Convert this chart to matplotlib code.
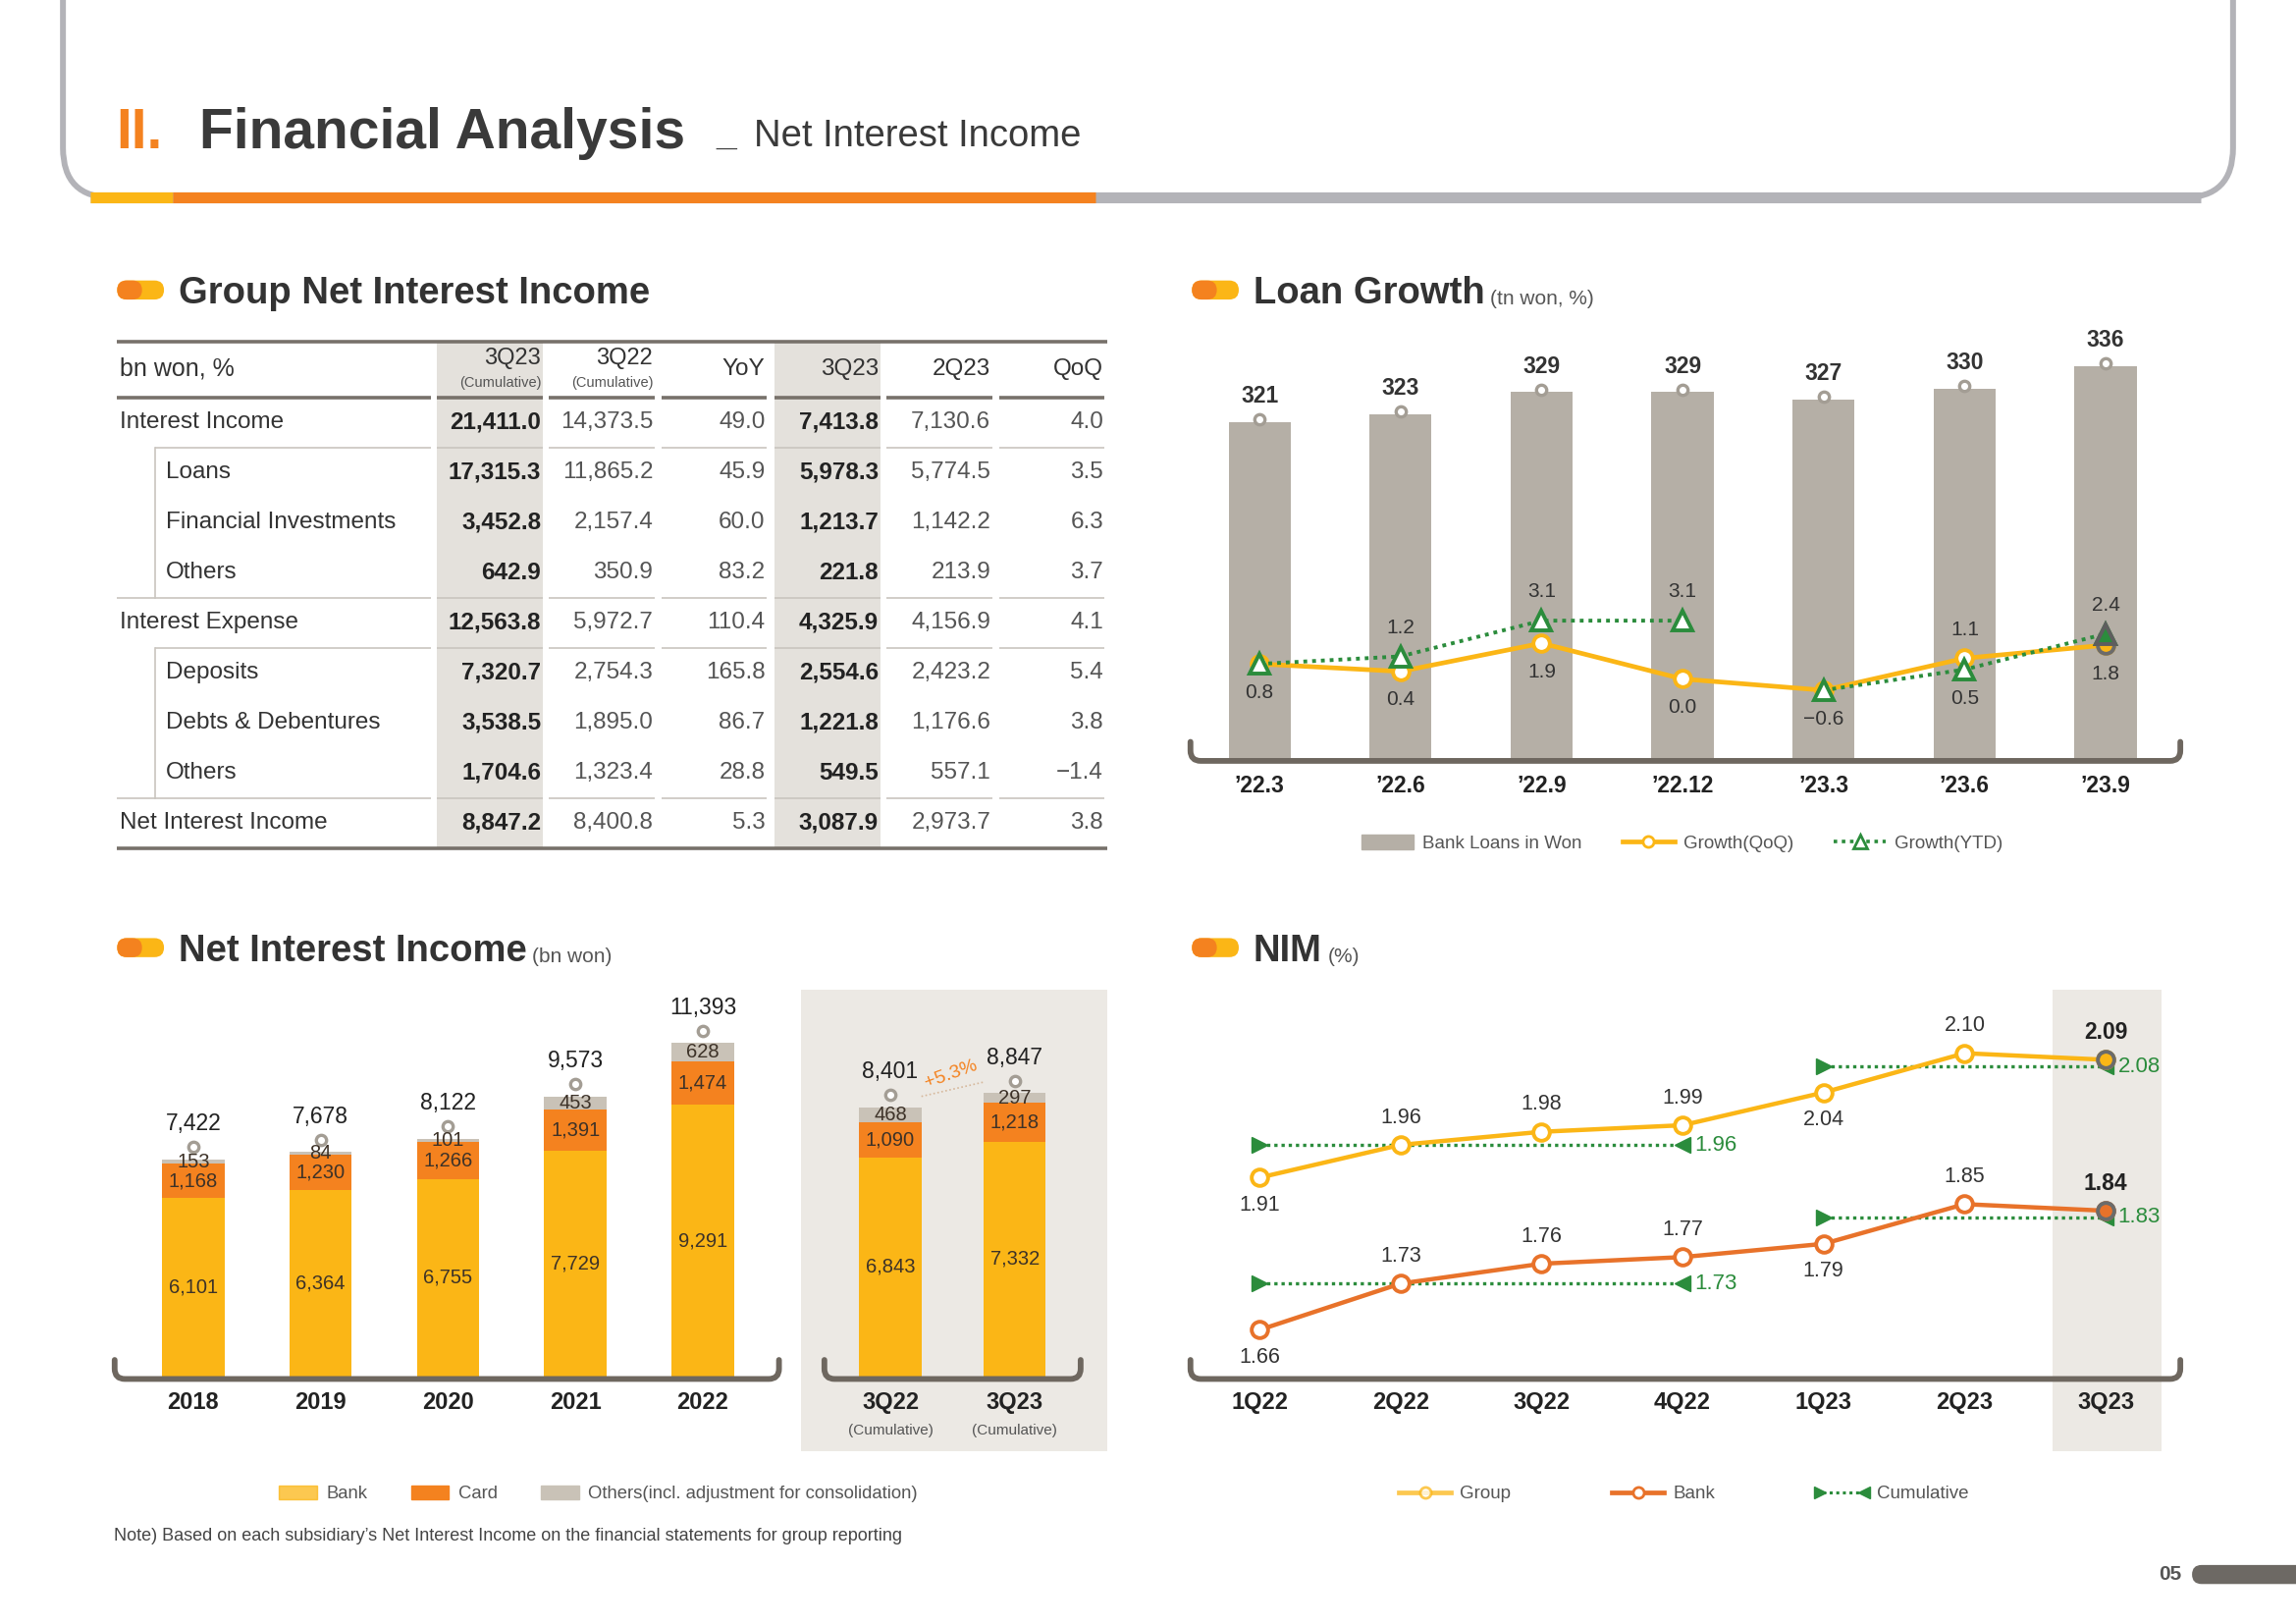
import matplotlib
matplotlib.use("Agg")
import matplotlib.pyplot as plt
from matplotlib import font_manager
from matplotlib.lines import Line2D
from matplotlib.legend_handler import HandlerBase
from matplotlib.patches import FancyBboxPatch, Patch, PathPatch, Rectangle
from matplotlib.path import Path
from matplotlib.transforms import blended_transform_factory, offset_copy


# ── data ───────────────────────────────────────────────────────────────────
tbl_rows = ["Interest Income", "Loans", "Financial Investments", "Others",
            "Interest Expense", "Deposits", "Debts & Debentures", "Others",
            "Net Interest Income"]
tbl_cols = ["3Q23", "3Q22", "YoY", "3Q23", "2Q23", "QoQ"]
tbl_subs = ["(Cumulative)", "(Cumulative)", "", "", "", ""]
cum_3q23 = [21411.0, 17315.3, 3452.8, 642.9, 12563.8, 7320.7, 3538.5, 1704.6, 8847.2]
cum_3q22 = [14373.5, 11865.2, 2157.4, 350.9, 5972.7, 2754.3, 1895.0, 1323.4, 8400.8]
yoy_pct  = [49.0, 45.9, 60.0, 83.2, 110.4, 165.8, 86.7, 28.8, 5.3]
q_3q23   = [7413.8, 5978.3, 1213.7, 221.8, 4325.9, 2554.6, 1221.8, 549.5, 3087.9]
q_2q23   = [7130.6, 5774.5, 1142.2, 213.9, 4156.9, 2423.2, 1176.6, 557.1, 2973.7]
qoq_pct  = [4.0, 3.5, 6.3, 3.7, 4.1, 5.4, 3.8, -1.4, 3.8]

loan_periods = ["\u201922.3", "\u201922.6", "\u201922.9", "\u201922.12",
                "\u201923.3", "\u201923.6", "\u201923.9"]
bank_loans = [321, 323, 329, 329, 327, 330, 336]
growth_qoq = [0.8, 0.4, 1.9, 0.0, -0.6, 1.1, 1.8]
growth_ytd = [0.8, 1.2, 3.1, 3.1, -0.6, 0.5, 2.4]

nii_years  = ["2018", "2019", "2020", "2021", "2022"]
nii_bank   = [6101, 6364, 6755, 7729, 9291]
nii_card   = [1168, 1230, 1266, 1391, 1474]
nii_others = [153, 84, 101, 453, 628]

cum_periods = ["3Q22", "3Q23"]
cum_bank    = [6843, 7332]
cum_card    = [1090, 1218]
cum_others  = [468, 297]

nim_quarters  = ["1Q22", "2Q22", "3Q22", "4Q22", "1Q23", "2Q23", "3Q23"]
nim_group     = [1.91, 1.96, 1.98, 1.99, 2.04, 2.10, 2.09]
nim_bank      = [1.66, 1.73, 1.76, 1.77, 1.79, 1.85, 1.84]
nim_cum_group = [1.96, 2.08]      # 2022, 2023
nim_cum_bank  = [1.73, 1.83]


# ── palette / fonts ────────────────────────────────────────────────────────
INK     = "#333333"
DARK    = "#222222"
SOFT    = "#555555"
ORANGE  = "#f4821f"
YELLOW  = "#fbb616"
BANKLN  = "#e8722a"
GREEN   = "#2b8c3c"
TAUPE   = "#6e675f"
BARGREY = "#b5afa6"
OTHERS  = "#c9c2b7"
PANEL   = "#ece9e4"
COLSH   = "#e4e1dc"
FRAME   = "#b3b3b8"
PIN     = "#a39d94"
SEGTXT  = "#3d3228"

_names = {f.name for f in font_manager.fontManager.ttflist}
BODY = "Liberation Sans" if "Liberation Sans" in _names else "DejaVu Sans"
NARROW = "Liberation Sans Narrow" if "Liberation Sans Narrow" in _names else BODY
TITLE_SIZE = 50 if NARROW != BODY else 41
plt.rcParams["font.family"] = [BODY, "DejaVu Sans"]

# page units: the slide as 1568 wide, y downwards
W = 1568.0
H = W * 1654 / 2339

fig = plt.figure(figsize=(23.39, 16.54), dpi=100)
page = fig.add_axes([0, 0, 1, 1], zorder=0)
page.set_xlim(0, W)
page.set_ylim(H, 0)
page.axis("off")


def rect(l, t, r, b):
    return [l / W, 1 - b / H, (r - l) / W, (b - t) / H]


def bracket(ax, l, r, y, h=13, rad=7):
    verts = [(l, y - h), (l, y - rad), (l, y), (l + rad, y),
             (r - rad, y), (r, y), (r, y - rad), (r, y - h)]
    codes = [Path.MOVETO, Path.LINETO, Path.CURVE3, Path.CURVE3,
             Path.LINETO, Path.CURVE3, Path.CURVE3, Path.LINETO]
    ax.add_patch(PathPatch(Path(verts, codes), fill=False, ec=TAUPE, lw=4.2,
                           capstyle="round", joinstyle="round",
                           transform=page.transData, clip_on=False, zorder=6))


def pill(x, y):
    page.add_patch(FancyBboxPatch((x, y - 6.5), 32, 13,
                   boxstyle="round,pad=0,rounding_size=6.5", fc=YELLOW, ec="none"))
    page.add_patch(FancyBboxPatch((x, y - 6.5), 17, 13,
                   boxstyle="round,pad=0,rounding_size=6.5", fc=ORANGE, ec="none"))


def section(x, y, title, unit=None):
    pill(x, y - 9)
    t = page.text(x + 42, y, title, fontsize=27.5, fontweight="bold",
                  color=INK, va="baseline")
    if unit:
        page.annotate(unit, xy=(1, 0), xycoords=t, xytext=(4, 2),
                      textcoords="offset points", fontsize=15, color=SOFT,
                      va="bottom", ha="left")


def clean(ax):
    for s in ax.spines.values():
        s.set_visible(False)
    ax.set_yticks([])
    ax.patch.set_alpha(0)


# ── header ─────────────────────────────────────────────────────────────────
page.add_patch(FancyBboxPatch((43, -80), 1482, 215,
               boxstyle="round,pad=0,rounding_size=34", fc="none", ec=FRAME, lw=4.3))
for x0, x1, c in [(62, 1503, FRAME), (62, 118, YELLOW), (118, 748, ORANGE)]:
    page.plot([x0, x1], [135, 135], color=c, lw=8, solid_capstyle="butt")
page.text(79, 101, "II.", fontsize=TITLE_SIZE, fontweight="bold", color=ORANGE,
          family=[NARROW, "DejaVu Sans"], va="baseline")
page.text(136, 101, "Financial Analysis", fontsize=TITLE_SIZE, fontweight="bold",
          color="#3a3a3a", family=[NARROW, "DejaVu Sans"], va="baseline")
page.text(489, 100, "_", fontsize=27, fontweight="bold", color="#3a3a3a", va="baseline")
page.text(515, 100, "Net Interest Income", fontsize=27.5, color="#3a3a3a", va="baseline")

section(80, 207, "Group Net Interest Income")
section(814, 207, "Loan Growth", "(tn won, %)")
section(80, 656, "Net Interest Income", "(bn won)")
section(814, 656, "NIM", "(%)")

# page number
page.text(1490, 1075, "05", fontsize=15, fontweight="bold", color=SOFT,
          ha="right", va="center")
page.add_patch(FancyBboxPatch((1497, 1068.5), 100, 13,
               boxstyle="round,pad=0,rounding_size=6.5", fc="#6d6964", ec="none"))


# ── table: Group Net Interest Income ───────────────────────────────────────
tbl_cols_data = [cum_3q23, cum_3q22, yoy_pct, q_3q23, q_2q23, qoq_pct]
bold_cols = {0, 3}
indent = [0, 1, 1, 1, 0, 1, 1, 1, 0]
rule_after = {0: 106, 3: 80, 4: 106, 7: 80}     # row -> start x of rule
col_right = [369.5, 446, 522.5, 600, 676.5, 753.5]
row_y0, row_h = 288.3, 34.2
t_top = 233
t_head = row_y0 - row_h / 2
t_bot = row_y0 + row_h * (len(tbl_rows) - 0.5)

for c in bold_cols:
    page.add_patch(Rectangle((col_right[c] - 71, t_top), 72, t_bot - t_top,
                             fc=COLSH, ec="none", zorder=1))


def segments(y, x_start, lw, color):
    spans = [(x_start, 294)] + [(r - 71, r + 1) for r in col_right]
    for a, b in spans:
        page.plot([a, b], [y, y], color=color, lw=lw, solid_capstyle="butt", zorder=2)


page.plot([80, 756], [t_top, t_top], color="#77716a", lw=2.6, solid_capstyle="butt", zorder=2)
page.plot([80, 756], [t_bot, t_bot], color="#77716a", lw=2.6, solid_capstyle="butt", zorder=2)
segments(t_head, 80, 2.6, "#77716a")
for r, xs in rule_after.items():
    segments(row_y0 + row_h * (r + 0.5), xs, 1.2, "#c9c5bf")
for r0, r1 in [(0, 3), (4, 7)]:
    page.plot([106, 106], [row_y0 + row_h * (r0 + 0.5), row_y0 + row_h * (r1 + 0.5)],
              color="#c9c5bf", lw=1.2, zorder=2)

page.text(82, 251.8, "bn won, %", fontsize=18, color=INK, va="center", zorder=3)
for c, (name, sub) in enumerate(zip(tbl_cols, tbl_subs)):
    if sub:
        page.text(col_right[c], 244.7, name, fontsize=17, color=INK,
                  ha="right", va="center", zorder=3)
        page.text(col_right[c], 261.7, sub, fontsize=10.5, color=SOFT,
                  ha="right", va="center", zorder=3)
    else:
        page.text(col_right[c], 251.8, name, fontsize=17.5, color=INK,
                  ha="right", va="center", zorder=3)

for i, label in enumerate(tbl_rows):
    y = row_y0 + row_h * i
    page.text(113 if indent[i] else 82, y, label, fontsize=17.5, color=INK,
              va="center", zorder=3)
    for c, col in enumerate(tbl_cols_data):
        txt = f"{col[i]:,.1f}".replace("-", "\u2212")
        page.text(col_right[c], y, txt, fontsize=17.5, ha="right", va="center",
                  color=DARK if c in bold_cols else SOFT,
                  fontweight="bold" if c in bold_cols else "normal", zorder=3)


# ── Loan Growth ────────────────────────────────────────────────────────────
ax = fig.add_axes(rect(813, 230, 1489, 518), zorder=2)
clean(ax)
xs = list(range(len(loan_periods)))
ax.bar(xs, bank_loans, width=0.44, color=BARGREY, zorder=1)
ax.set_xlim(-0.49, 6.53)
ax.set_ylim(230.2, 343.9)
ax.plot(xs, bank_loans, ls="none", marker="o", ms=7.5, mfc="white", mec=PIN, mew=2.4,
        transform=offset_copy(ax.transData, fig=fig, y=2, units="points"),
        clip_on=False, zorder=3)
for xi, v in zip(xs, bank_loans):
    ax.annotate(f"{v}", (xi, v), xytext=(0, 19), textcoords="offset points",
                ha="center", va="center", fontsize=16.5, fontweight="bold", color=INK)
ax.set_xticks(xs)
ax.set_xticklabels(loan_periods, fontsize=16.5, fontweight="bold", color=DARK)
ax.tick_params(axis="x", length=0, pad=12)
bracket(ax, 813, 1489, 519.5)

ax2 = ax.twinx()
clean(ax2)
ax2.set_ylim(-4.24, 18.19)
ax2.plot(xs, growth_qoq, color=YELLOW, lw=3.4, marker="o", ms=12, mfc="white",
         mec=YELLOW, mew=2.8, zorder=3)
ax2.plot(xs[-1], growth_qoq[-1], marker="o", ms=12, mfc=YELLOW, mec="#6b6b6b",
         mew=2.8, zorder=5)
years = [p[1:3] for p in loan_periods]
for yr in dict.fromkeys(years):
    idx = [i for i, y in enumerate(years) if y == yr]
    ax2.plot(idx, [growth_ytd[i] for i in idx], color=GREEN, lw=2.8,
             ls=(0, (1, 1.3)), marker="^", ms=14, mfc="white", mec=GREEN,
             mew=2.8, zorder=4)
ax2.plot(xs[-1], growth_ytd[-1], marker="^", ms=14, mfc=GREEN, mec="#5e5e5e",
         mew=2.8, zorder=5)

qoq_pos = [-1, -1, -1, -1, -1, 1, -1]
ytd_pos = [0, 1, 1, 1, 0, -1, 1]
for i in xs:
    ax2.annotate(f"{growth_qoq[i]:.1f}".replace("-", "\u2212"), (i, growth_qoq[i]),
                 xytext=(0, 21 * qoq_pos[i]), textcoords="offset points",
                 ha="center", va="center", fontsize=15, color=INK)
    if ytd_pos[i]:
        ax2.annotate(f"{growth_ytd[i]:.1f}", (i, growth_ytd[i]),
                     xytext=(0, 21 * ytd_pos[i]), textcoords="offset points",
                     ha="center", va="center", fontsize=15, color=INK)

fig.legend(handles=[Patch(color=BARGREY, label="Bank Loans in Won"),
                    Line2D([], [], color=YELLOW, lw=3.4, marker="o", ms=8,
                           mfc="white", mec=YELLOW, mew=2, label="Growth(QoQ)"),
                    Line2D([], [], color=GREEN, lw=2.6, ls=(0, (1, 1.3)), marker="^",
                           ms=10, mfc="white", mec=GREEN, mew=2, label="Growth(YTD)")],
           loc="center", bbox_to_anchor=(1149 / W, 1 - 576 / H), ncol=3,
           frameon=False, fontsize=13.5, handlelength=2.8, handleheight=0.8,
           handletextpad=0.5, columnspacing=2.2, labelcolor=SOFT)


# ── Net Interest Income ────────────────────────────────────────────────────
page.add_patch(Rectangle((547, 676), 209, 315, fc=PANEL, ec="none", zorder=0))


def stacked(ax, labels, bank, card, others, width):
    xs = list(range(len(labels)))
    totals = [b + c + o for b, c, o in zip(bank, card, others)]
    ax.bar(xs, bank, width=width, color=YELLOW, zorder=1)
    ax.bar(xs, card, width=width, bottom=bank, color=ORANGE, zorder=1)
    ax.bar(xs, others, width=width, bottom=[b + c for b, c in zip(bank, card)],
           color=OTHERS, zorder=1)
    for i in xs:
        ax.text(i, bank[i] / 2, f"{bank[i]:,}", ha="center", va="center",
                fontsize=14.5, color=SEGTXT, zorder=4)
        ax.text(i, bank[i] + card[i] / 2, f"{card[i]:,}", ha="center", va="center",
                fontsize=14.5, color=SEGTXT, zorder=4)
        ax.text(i, bank[i] + card[i] + others[i] / 2, f"{others[i]:,}", ha="center",
                va="center", fontsize=14.5, color=SEGTXT, zorder=4)
        ax.annotate(f"{totals[i]:,}", (i, totals[i]), xytext=(0, 26),
                    textcoords="offset points", ha="center", va="center",
                    fontsize=16.5, color=DARK)
    ax.plot(xs, totals, ls="none", marker="o", ms=7.5, mfc="white", mec=PIN, mew=2.4,
            transform=offset_copy(ax.transData, fig=fig, y=9, units="points"),
            clip_on=False, zorder=3)
    ax.set_xticks(xs)
    ax.set_xticklabels(labels, fontsize=17, fontweight="bold", color=DARK)
    ax.tick_params(axis="x", length=0, pad=11)
    return totals


axn = fig.add_axes(rect(78.3, 676, 532, 940), zorder=2)
clean(axn)
stacked(axn, nii_years, nii_bank, nii_card, nii_others, 0.49)
axn.set_xlim(-0.617, 4.598)
axn.set_ylim(0, 13200)
bracket(axn, 78.3, 532, 941.5)

axc = fig.add_axes(rect(563, 676, 738, 940), zorder=2)
clean(axc)
tot = stacked(axc, cum_periods, cum_bank, cum_card, cum_others, 0.5)
axc.set_xlim(-0.53, 1.53)
axc.set_ylim(0, 12055)
bracket(axc, 563, 738, 941.5)
tr = blended_transform_factory(axc.transData, axc.transAxes)
for i in range(len(cum_periods)):
    axc.text(i, -0.14, "(Cumulative)", transform=tr, ha="center", va="center",
             fontsize=11, color=SOFT)
lift = offset_copy(axc.transData, fig=fig, y=8, units="points")
axc.plot([0.25, 0.75], tot, ls=(0, (1, 1.5)), color="#d6b89c", lw=1.2,
         transform=lift, zorder=2)
axc.annotate(f"+{(tot[1] / tot[0] - 1) * 100:.1f}%", (0.5, sum(tot) / 2),
             xytext=(-1, 19), textcoords="offset points", ha="center", va="center",
             rotation=20, fontsize=14, color=ORANGE)

fig.legend(handles=[Patch(color=YELLOW, alpha=0.75, label="Bank"),
                    Patch(color=ORANGE, label="Card"),
                    Patch(color=OTHERS, label="Others(incl. adjustment for consolidation)")],
           loc="center", bbox_to_anchor=(408.5 / W, 1 - 1020 / H), ncol=3,
           frameon=False, fontsize=13.3, handlelength=2.1, handleheight=0.8,
           handletextpad=0.5, columnspacing=2.4, labelcolor=SOFT)
page.text(78, 1049, "Note) Based on each subsidiary\u2019s Net Interest Income on the "
          "financial statements for group reporting", fontsize=13, color="#444444",
          va="center")


# ── NIM ────────────────────────────────────────────────────────────────────
axm = fig.add_axes(rect(813, 676, 1489, 940), zorder=2)
clean(axm)
qx = list(range(len(nim_quarters)))
axm.set_xlim(-0.49, 6.53)
axm.set_ylim(1.6058, 2.1964)
axm.add_patch(Rectangle((qx[-1] - 0.375, -0.193), 0.771, 1.193, fc=PANEL, ec="none",
                        transform=blended_transform_factory(axm.transData, axm.transAxes),
                        clip_on=False, zorder=0))
axm.set_xticks(qx)
axm.set_xticklabels(nim_quarters, fontsize=17, fontweight="bold", color=DARK)
axm.tick_params(axis="x", length=0, pad=11)
bracket(axm, 813, 1489, 941.5)

axb = axm.twinx()
clean(axb)
axb.set_ylim(1.5892, 2.1733)

qyears = [q[-2:] for q in nim_quarters]
spans = []
for yr in dict.fromkeys(qyears):
    idx = [i for i, y in enumerate(qyears) if y == yr]
    spans.append((idx[0], idx[-1]))

for a, vals, cums, color, pos in [
        (axm, nim_group, nim_cum_group, YELLOW, [-1, 1, 1, 1, -1, 1, 1]),
        (axb, nim_bank, nim_cum_bank, BANKLN, [-1, 1, 1, 1, -1, 1, 1])]:
    for (i0, i1), v in zip(spans, cums):
        a.plot([i0, i1], [v, v], color=GREEN, lw=2.4, ls=(0, (1, 1.2)), zorder=2)
        a.plot(i0, v, marker=">", ms=12, color=GREEN, ls="none", zorder=2)
        a.plot(i1, v, marker="<", ms=12, color=GREEN, ls="none", zorder=2)
        a.annotate(f"{v:.2f}", (i1, v), xytext=(9, 0), textcoords="offset points",
                   ha="left", va="center", fontsize=16, color=GREEN)
    a.plot(qx, vals, color=color, lw=3.2, marker="o", ms=12, mfc="white", mec=color,
           mew=2.8, zorder=3)
    a.plot(qx[-1], vals[-1], marker="o", ms=12, mfc=color, mec="#6b6b6b", mew=2.8,
           zorder=4)
    for i in qx:
        last = i == qx[-1]
        a.annotate(f"{vals[i]:.2f}", (i, vals[i]), xytext=(0, 20 * pos[i]),
                   textcoords="offset points", ha="center", va="center",
                   fontsize=16.5 if last else 15.5, color=DARK if last else INK,
                   fontweight="bold" if last else "normal")


class CumHandler(HandlerBase):
    def create_artists(self, legend, orig, xd, yd, w, h, fs, trans):
        y = h / 2 - yd
        arts = [Line2D([-xd, w - xd], [y, y], color=GREEN, lw=2.2, ls=(0, (1, 1.2))),
                Line2D([-xd + 3], [y], marker=">", ms=8, color=GREEN, ls="none"),
                Line2D([w - xd - 3], [y], marker="<", ms=8, color=GREEN, ls="none")]
        for art in arts:
            art.set_transform(trans)
        return arts


cum_handle = Line2D([], [], color=GREEN, label="Cumulative")
fig.legend(handles=[Line2D([], [], color=YELLOW, alpha=0.75, lw=3.4, marker="o", ms=8,
                           mfc="white", mec=YELLOW, mew=2, label="Group"),
                    Line2D([], [], color=BANKLN, lw=3.4, marker="o", ms=8,
                           mfc="white", mec=BANKLN, mew=2, label="Bank"),
                    cum_handle],
           handler_map={cum_handle: CumHandler()},
           loc="center", bbox_to_anchor=(1150 / W, 1 - 1020 / H), ncol=3,
           frameon=False, fontsize=13.5, handlelength=2.8, handleheight=0.8,
           handletextpad=0.5, columnspacing=5.5, labelcolor=SOFT)

fig.savefig("out.png", dpi=100, facecolor="white")
